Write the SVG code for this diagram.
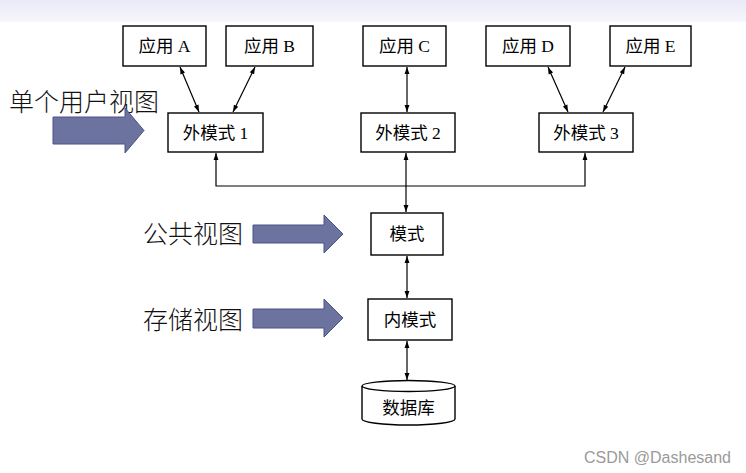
<svg xmlns="http://www.w3.org/2000/svg" width="746" height="473" viewBox="0 0 746 473">
<style>
.box{fill:#fff;stroke:#000;stroke-width:1.4}
.lbl{font-family:"Liberation Serif","Noto Sans CJK SC",serif;font-size:17.5px;fill:#000;text-anchor:middle;dominant-baseline:central}
.big{font-family:"Noto Sans CJK SC",sans-serif;font-size:25px;font-weight:300;fill:#111;dominant-baseline:central}
.con{fill:none;stroke:#000;stroke-width:1.2}
.blk{fill:#6B739E;stroke:#4A5488;stroke-width:1}
</style>
<defs>
<linearGradient id="band" x1="0" y1="0" x2="0" y2="1">
<stop offset="0" stop-color="#EAEAF8"/>
<stop offset="1" stop-color="#F6F6FC"/>
</linearGradient>
<marker id="ah" viewBox="0 0 10 10" refX="10" refY="5" markerWidth="8" markerHeight="7" markerUnits="userSpaceOnUse" orient="auto-start-reverse">
<path d="M0,1.5 L10,5 L0,8.5 Z" fill="#000"/>
</marker>
</defs>
<rect x="0" y="0" width="746" height="22" fill="url(#band)"/>

<g id="connectors">
<line class="con" x1="180" y1="67" x2="199" y2="112" marker-start="url(#ah)" marker-end="url(#ah)"/>
<line class="con" x1="255" y1="67" x2="233" y2="112" marker-start="url(#ah)" marker-end="url(#ah)"/>
<line class="con" x1="407" y1="67" x2="407" y2="112" marker-start="url(#ah)" marker-end="url(#ah)"/>
<line class="con" x1="548" y1="67" x2="568" y2="112" marker-start="url(#ah)" marker-end="url(#ah)"/>
<line class="con" x1="625" y1="67" x2="603" y2="112" marker-start="url(#ah)" marker-end="url(#ah)"/>
<polyline class="con" points="216,153 216,186 585,186 585,153" marker-start="url(#ah)" marker-end="url(#ah)"/>
<line class="con" x1="406" y1="153" x2="406" y2="212" marker-start="url(#ah)" marker-end="url(#ah)"/>
<line class="con" x1="407" y1="256" x2="407" y2="298" marker-start="url(#ah)" marker-end="url(#ah)"/>
<line class="con" x1="407" y1="341" x2="407" y2="380" marker-start="url(#ah)" marker-end="url(#ah)"/>
</g>

<g id="appA"><rect class="box" x="123" y="26" width="83" height="40"/><text class="lbl" x="164.5" y="46">应用 A</text></g>
<g id="appB"><rect class="box" x="226" y="26" width="87" height="40"/><text class="lbl" x="269.5" y="46">应用 B</text></g>
<g id="appC"><rect class="box" x="363" y="26" width="83" height="40"/><text class="lbl" x="404.5" y="46">应用 C</text></g>
<g id="appD"><rect class="box" x="486" y="26" width="84" height="40"/><text class="lbl" x="528" y="46">应用 D</text></g>
<g id="appE"><rect class="box" x="610" y="26" width="81" height="40"/><text class="lbl" x="650.5" y="46">应用 E</text></g>

<g id="ext1"><rect class="box" x="168" y="113" width="95" height="39"/><text class="lbl" x="215.5" y="132.5">外模式 1</text></g>
<g id="ext2"><rect class="box" x="361" y="113" width="94" height="39"/><text class="lbl" x="408" y="132.5">外模式 2</text></g>
<g id="ext3"><rect class="box" x="539" y="113" width="94" height="39"/><text class="lbl" x="586" y="132.5">外模式 3</text></g>

<g id="schema"><rect class="box" x="371" y="213" width="72" height="42"/><text class="lbl" x="407" y="234">模式</text></g>
<g id="inner"><rect class="box" x="368" y="299" width="84" height="41"/><text class="lbl" x="410" y="319.5">内模式</text></g>
<g id="db">
<path class="box" d="M362,386 L362,419 A46.5,6 0 0 0 455,419 L455,386"/>
<ellipse class="box" cx="408.5" cy="386" rx="46.5" ry="5.5"/>
<text class="lbl" x="408.5" y="408">数据库</text>
</g>

<g id="view1">
<text class="big" x="9" y="100">单个用户视图</text>
<polygon class="blk" points="53,117 125,117 125,108 144,130.5 125,153 125,144 53,144"/>
</g>
<g id="view2">
<text class="big" x="143" y="232">公共视图</text>
<polygon class="blk" points="253,225 324,225 324,215 343,234 324,253 324,243 253,243"/>
</g>
<g id="view3">
<text class="big" x="143" y="318">存储视图</text>
<polygon class="blk" points="253,309 324,309 324,299 343,318 324,337 324,328 253,328"/>
</g>

<text x="731" y="457" text-anchor="end" dominant-baseline="central" font-family="Liberation Sans, Arial, sans-serif" font-size="16" fill="#9a9a9a">CSDN @Dashesand</text>
</svg>
